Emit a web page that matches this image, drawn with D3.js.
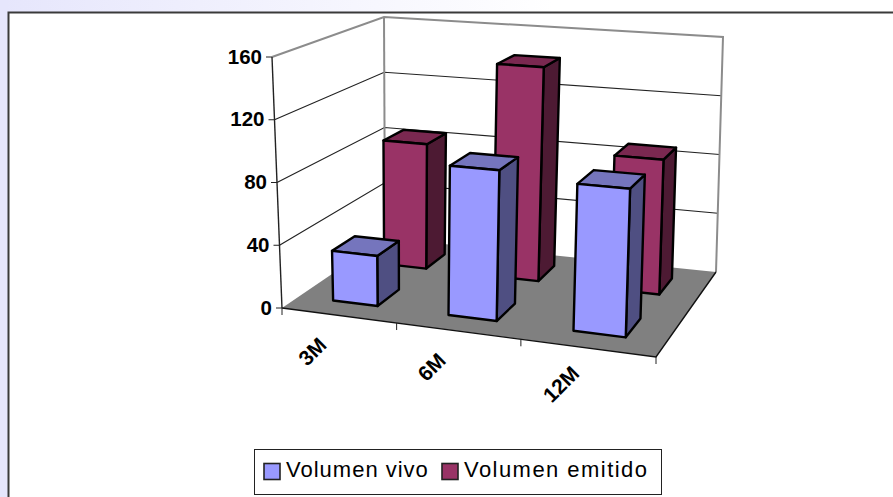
<!DOCTYPE html>
<html>
<head>
<meta charset="utf-8">
<script src="https://d3js.org/d3.v7.min.js"></script>
<style>
  html, body { margin: 0; padding: 0; background: #fff; }
  svg { display: block; }
  text { font-family: "Liberation Sans", Arial, sans-serif; fill: #000; }
</style>
</head>
<body>
<svg id="chart" width="893" height="497"></svg>
<script>
// Chart data
const categories = ["3M", "6M", "12M"];
const seriesNames = ["Volumen vivo", "Volumen emitido"];
const volumenVivo = [32, 94, 90];
const volumenEmitido = [85, 143, 88];
const valueTicks = [0, 40, 80, 120, 160];

// Colours per series: front, side, top
const seriesColors = [
  { front: "#9999ff", side: "#4f4f82", top: "#7575bd" },
  { front: "#993366", side: "#4d1a33", top: "#7a2850" }
];

const svg = d3.select("#chart");
const W = 893, H = 497;

// Page backdrop with a lavender band fading to the right
const defs = svg.append("defs");
const fade = defs.append("linearGradient").attr("id", "band");
fade.append("stop").attr("offset", "0").attr("stop-color", "#e6e6fc");
fade.append("stop").attr("offset", "0.62").attr("stop-color", "#ffffff");
svg.append("rect").attr("width", W).attr("height", 13).attr("fill", "url(#band)");
svg.append("rect").attr("width", 8).attr("height", H).attr("fill", "#e6e6fc");
svg.append("path").attr("d", `M8.5,${H} V12.5 H${W}`).attr("fill", "none")
  .attr("stroke", "#3a3a3a").attr("stroke-width", 2);

// Corners of the plot box on screen, floor and ceiling planes
const floorQuad = { fl: [282, 308], fr: [656, 357], br: [716, 272], bl: [385, 238] };
const ceilQuad  = { fl: [272, 57],  fr: [664, 84],  br: [723, 37],  bl: [384, 17] };

// Maps the unit square (u right, w into the page) onto a screen quadrilateral
function homography(q) {
  const [x0, y0] = q.fl, [x1, y1] = q.fr, [x2, y2] = q.br, [x3, y3] = q.bl;
  const dx1 = x1 - x2, dx2 = x3 - x2, sx = x0 - x1 + x2 - x3;
  const dy1 = y1 - y2, dy2 = y3 - y2, sy = y0 - y1 + y2 - y3;
  const den = dx1 * dy2 - dx2 * dy1;
  const g = (sx * dy2 - dx2 * sy) / den;
  const h = (dx1 * sy - sx * dy1) / den;
  const a = x1 - x0 + g * x1, b = x3 - x0 + h * x3;
  const d = y1 - y0 + g * y1, e = y3 - y0 + h * y3;
  return (u, w) => {
    const k = g * u + h * w + 1;
    return [(a * u + b * w + x0) / k, (d * u + e * w + y0) / k];
  };
}
const onFloor = homography(floorQuad);
const onCeil = homography(ceilQuad);

// Scales for the three chart dimensions
const xScale = d3.scaleBand().domain(categories).range([0, 1]);
const yScale = d3.scaleLinear().domain([0, 160]).range([0, 1]);
const zScale = d3.scaleBand().domain(seriesNames).range([0, 1]);

function project(u, w, value) {
  const t = yScale(value);
  const a = onFloor(u, w), b = onCeil(u, w);
  return [a[0] + (b[0] - a[0]) * t, a[1] + (b[1] - a[1]) * t];
}
const poly = pts => d3.line()(pts) + "Z";

const scene = svg.append("g");

// Floor
scene.append("path")
  .attr("d", poly([project(0,0,0), project(1,0,0), project(1,1,0), project(0,1,0)]))
  .attr("fill", "#808080");

// Walls: gridlines on the side and back faces
valueTicks.filter(v => v > 0 && v < 160).forEach(v => {
  scene.append("path")
    .attr("d", d3.line()([project(0,0,v), project(0,1,v), project(1,1,v)]))
    .attr("fill", "none").attr("stroke", "#222").attr("stroke-width", 1.2);
});

// Grey wall frame
scene.append("path")
  .attr("d", d3.line()([project(0,0,160), project(0,1,160), project(1,1,160), project(1,1,0)]))
  .attr("fill", "none").attr("stroke", "#8c8c8c").attr("stroke-width", 2);
scene.append("path")
  .attr("d", d3.line()([project(0,1,160), project(0,1,0)]))
  .attr("fill", "none").attr("stroke", "#8c8c8c").attr("stroke-width", 2);

// Front and right floor edges
scene.append("path")
  .attr("d", d3.line()([project(0,0,0), project(1,0,0), project(1,1,0)]))
  .attr("fill", "none").attr("stroke", "#111").attr("stroke-width", 1.4);

// Value axis with ticks
scene.append("path")
  .attr("d", d3.line()([project(0,0,160), project(0,0,0)]))
  .attr("fill", "none").attr("stroke", "#222").attr("stroke-width", 1.4);
valueTicks.forEach(v => {
  const p = project(0,0,v);
  scene.append("line")
    .attr("x1", p[0] - 6).attr("y1", p[1]).attr("x2", p[0]).attr("y2", p[1])
    .attr("stroke", "#222").attr("stroke-width", 1);
  scene.append("text")
    .attr("x", p[0] - 10).attr("y", p[1] - 1)
    .attr("text-anchor", "end").attr("dominant-baseline", "central")
    .attr("font-size", 20.5).attr("font-weight", "bold").text(v);
});

// Category axis ticks and slanted labels
d3.range(categories.length + 1).forEach(i => {
  const p = project(i / categories.length, 0, 0);
  scene.append("line")
    .attr("x1", p[0]).attr("y1", p[1]).attr("x2", p[0]).attr("y2", p[1] + 7)
    .attr("stroke", "#222").attr("stroke-width", 1);
});
const labelOffset = { dx: -26, dy: 36 };
categories.forEach(c => {
  const p = project(xScale(c) + xScale.bandwidth() / 2, 0, 0);
  scene.append("text")
    .attr("transform", `translate(${p[0] + labelOffset.dx},${p[1] + labelOffset.dy}) rotate(-45)`)
    .attr("text-anchor", "middle").attr("dominant-baseline", "central")
    .attr("font-size", 21).attr("font-weight", "bold").text(c);
});

// Bars: the back series first so the front series overlaps it
const barWidth = 0.395, barDepth = 0.21;
function drawBar(cat, series, value, colors) {
  const cx = xScale(cat) + xScale.bandwidth() * 0.505;
  const cz = zScale(series) + zScale.bandwidth() * 0.51;
  const u0 = cx - xScale.bandwidth() * barWidth / 2, u1 = cx + xScale.bandwidth() * barWidth / 2;
  const w0 = cz - barDepth * zScale.bandwidth(), w1 = cz + barDepth * zScale.bandwidth();
  const g = scene.append("g").attr("stroke", "#000").attr("stroke-width", 2.4).attr("stroke-linejoin", "round");
  g.append("path").attr("fill", colors.side)
    .attr("d", poly([project(u1,w0,0), project(u1,w1,0), project(u1,w1,value), project(u1,w0,value)]));
  g.append("path").attr("fill", colors.top)
    .attr("d", poly([project(u0,w0,value), project(u1,w0,value), project(u1,w1,value), project(u0,w1,value)]));
  g.append("path").attr("fill", colors.front)
    .attr("d", poly([project(u0,w0,0), project(u1,w0,0), project(u1,w0,value), project(u0,w0,value)]));
}
const seriesValues = [volumenVivo, volumenEmitido];
// Paint back row first, then the front row, left to right
[1, 0].forEach(s => {
  categories.forEach((c, i) => drawBar(c, seriesNames[s], seriesValues[s][i], seriesColors[s]));
});

// Legend
const legend = svg.append("g");
legend.append("rect").attr("x", 254.5).attr("y", 449.5).attr("width", 407).attr("height", 45)
  .attr("fill", "#fff").attr("stroke", "#222").attr("stroke-width", 1);
const legendSwatchX = [264, 442];
const legendTracking = [1.0, 1.45];
seriesNames.forEach((name, i) => {
  legend.append("rect").attr("x", legendSwatchX[i]).attr("y", 463.5).attr("width", 16).attr("height", 16)
    .attr("fill", seriesColors[i].front).attr("stroke", "#222").attr("stroke-width", 1.6);
  legend.append("text").attr("x", legendSwatchX[i] + 22).attr("y", 477)
    .attr("font-size", 22).attr("letter-spacing", legendTracking[i]).text(name);
});
</script>
</body>
</html>
